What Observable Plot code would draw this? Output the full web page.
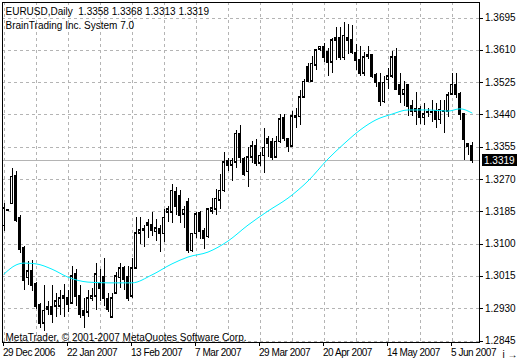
<!DOCTYPE html>
<html><head><meta charset="utf-8">
<script src="https://cdn.jsdelivr.net/npm/d3@7"></script>
<script src="https://cdn.jsdelivr.net/npm/@observablehq/plot@0.6"></script>
<style>
html,body{margin:0;padding:0;background:#fff;}
#chart{width:520px;height:360px;overflow:hidden;}
svg{display:block;}
g[aria-label="x-axis tick label"] text{letter-spacing:-0.45px;}
</style></head><body><div id="chart"></div>
<script>
const symbolLabel = "EURUSD,Daily";
const subtitle = "BrainTrading Inc. System 7.0";
const caption = "MetaTrader, \u00a9 2001-2007 MetaQuotes Software Corp.";

const open = [1.3148,1.3190,1.3206,1.3279,1.3169,1.3090,1.3011,1.3029,1.2995,1.2940,
1.2892,1.2929,1.2934,1.2937,1.2937,1.2958,1.2958,1.2945,1.3021,1.2963,
1.2924,1.2921,1.2956,1.2963,1.2995,1.3013,1.2956,1.2908,1.2971,1.3011,
1.3037,1.3013,1.2963,1.3037,1.3129,1.3137,1.3156,1.3150,1.3132,1.3140,
1.3127,1.3184,1.3184,1.3237,1.3227,1.3179,1.3211,1.3082,1.3127,1.3182,
1.3134,1.3119,1.3187,1.3192,1.3216,1.3240,1.3319,1.3308,1.3316,1.3390,
1.3324,1.3290,1.3329,1.3358,1.3313,1.3332,1.3377,1.3369,1.3329,1.3369,
1.3432,1.3377,1.3358,1.3437,1.3435,1.3487,1.3566,1.3529,1.3571,1.3613,
1.3619,1.3606,1.3579,1.3637,1.3642,1.3590,1.3637,1.3637,1.3603,1.3584,
1.3550,1.3595,1.3598,1.3545,1.3524,1.3474,1.3532,1.3542,1.3592,1.3519,
1.3495,1.3519,1.3463,1.3456,1.3456,1.3432,1.3448,1.3447,1.3450,1.3427,
1.3450,1.3450,1.3495,1.3519,1.3495,1.3442,1.3364,1.3358];
const high = [1.3206,1.3192,1.3298,1.3292,1.3174,1.3095,1.3053,1.3056,1.3000,1.2945,
1.2990,1.2950,1.2990,1.2969,1.2977,1.2995,1.2979,1.3040,1.3034,1.2990,
1.2956,1.2977,1.2982,1.3050,1.3034,1.3063,1.2971,1.2971,1.3024,1.3048,
1.3042,1.3042,1.3063,1.3169,1.3169,1.3148,1.3166,1.3184,1.3166,1.3148,
1.3192,1.3200,1.3258,1.3248,1.3240,1.3200,1.3219,1.3129,1.3182,1.3187,
1.3140,1.3195,1.3219,1.3245,1.3284,1.3340,1.3324,1.3324,1.3398,1.3411,
1.3329,1.3353,1.3371,1.3374,1.3340,1.3403,1.3382,1.3379,1.3384,1.3442,
1.3442,1.3379,1.3450,1.3456,1.3503,1.3534,1.3574,1.3595,1.3613,1.3621,
1.3627,1.3616,1.3640,1.3669,1.3669,1.3682,1.3679,1.3674,1.3624,1.3619,
1.3603,1.3621,1.3600,1.3548,1.3548,1.3542,1.3561,1.3608,1.3616,1.3548,
1.3529,1.3521,1.3477,1.3498,1.3463,1.3471,1.3456,1.3477,1.3471,1.3477,
1.3477,1.3498,1.3550,1.3548,1.3498,1.3445,1.3366,1.3368];
const low = [1.3132,1.3187,1.3203,1.3158,1.3074,1.2977,1.2990,1.2974,1.2929,1.2879,
1.2869,1.2913,1.2890,1.2908,1.2913,1.2906,1.2919,1.2940,1.2937,1.2903,
1.2877,1.2908,1.2950,1.2924,1.2950,1.2937,1.2919,1.2903,1.2969,1.2984,
1.2977,1.2950,1.2958,1.3034,1.3100,1.3090,1.3116,1.3121,1.3108,1.3077,
1.3103,1.3156,1.3153,1.3174,1.3153,1.3142,1.3074,1.3077,1.3116,1.3113,
1.3087,1.3116,1.3179,1.3174,1.3192,1.3235,1.3292,1.3266,1.3300,1.3313,
1.3279,1.3250,1.3313,1.3303,1.3303,1.3287,1.3327,1.3319,1.3324,1.3366,
1.3371,1.3340,1.3353,1.3403,1.3411,1.3482,1.3524,1.3524,1.3556,1.3608,
1.3577,1.3542,1.3548,1.3582,1.3584,1.3584,1.3600,1.3600,1.3558,1.3542,
1.3542,1.3587,1.3537,1.3511,1.3463,1.3469,1.3508,1.3537,1.3503,1.3471,
1.3463,1.3437,1.3437,1.3411,1.3416,1.3411,1.3432,1.3419,1.3403,1.3416,
1.3390,1.3434,1.3490,1.3484,1.3424,1.3321,1.3332,1.3313];
const close = [1.3195,1.3189,1.3277,1.3163,1.3087,1.3003,1.3029,1.2990,1.2937,1.2892,
1.2924,1.2934,1.2916,1.2950,1.2958,1.2963,1.2942,1.3016,1.2961,1.2916,
1.2911,1.2958,1.2963,1.3021,1.2982,1.2958,1.2929,1.2958,1.3016,1.3037,
1.3008,1.2958,1.3037,1.3129,1.3137,1.3140,1.3150,1.3137,1.3142,1.3127,
1.3169,1.3192,1.3240,1.3198,1.3174,1.3190,1.3082,1.3127,1.3179,1.3134,
1.3116,1.3192,1.3195,1.3219,1.3240,1.3316,1.3306,1.3319,1.3390,1.3327,
1.3282,1.3329,1.3358,1.3313,1.3332,1.3353,1.3364,1.3329,1.3369,1.3429,
1.3379,1.3356,1.3437,1.3434,1.3487,1.3527,1.3527,1.3574,1.3610,1.3619,
1.3590,1.3577,1.3637,1.3642,1.3590,1.3648,1.3642,1.3603,1.3582,1.3550,
1.3592,1.3598,1.3542,1.3524,1.3474,1.3524,1.3542,1.3592,1.3508,1.3495,
1.3506,1.3463,1.3450,1.3450,1.3432,1.3442,1.3447,1.3448,1.3429,1.3453,
1.3451,1.3492,1.3519,1.3495,1.3442,1.3374,1.3356,1.3319];

// moving average readings (bar index -> value)
const maBars = [0,3,5,8,12,16,21,26,32,37,42,46,51,56,61,66,71,76,81,85,89,93,97,101,106,111,114,117];
const maValues = [1.3021,1.3045,1.3050,1.3048,1.3034,1.3013,1.3000,1.2998,1.2998,1.3019,1.3048,1.3066,1.3079,1.3108,1.3150,1.3187,1.3221,1.3266,1.3324,1.3364,1.3400,1.3427,1.3442,1.3453,1.3453,1.3450,1.3456,1.3445];

const priceTicks = [1.2845,1.2930,1.3015,1.3100,1.3185,1.3270,1.3355,1.3440,1.3525,1.3610,1.3695];
const dateTickBars = [0,16,32,48,64,80,96,112];
const dateTickLabels = ["29 Dec 2006","22 Jan 2007","13 Feb 2007","7 Mar 2007","29 Mar 2007","20 Apr 2007","14 May 2007","5 Jun 2007"];
const gridBars = [0,8,16,24,32,40,48,56,64,72,80,88,96,104,112];

const bars = open.map((o,i)=>({i, o, h:high[i], l:low[i], c:close[i]}));
const upBars = bars.filter(d=>d.c>=d.o);
const downBars = bars.filter(d=>d.c<d.o);
const ma = maBars.map((b,k)=>({i:b, v:maValues[k]}));
const last = bars[bars.length-1];
const f4 = v=>v.toFixed(4);
const titleLine = symbolLabel + "\u00a0\u00a0" + [last.o,last.h,last.l,last.c].map(f4).join(" ");

const font = "'Liberation Sans', Arial, sans-serif";
const crisp = {shapeRendering:"crispEdges"};
const NS = "http://www.w3.org/2000/svg";

// price axis labels and current-price box, positioned with the plot's own y scale
function priceLabels(index, scales, values, dim) {
  const g = document.createElementNS(NS, "g");
  const xr = dim.width - dim.marginRight;
  for (const p of priceTicks) {
    const t = document.createElementNS(NS, "text");
    t.setAttribute("x", xr + 6); t.setAttribute("y", scales.y(p)); t.setAttribute("dy", "0.35em");
    t.setAttribute("text-anchor", "start"); t.setAttribute("fill", "#000"); t.setAttribute("font-size", "10");
    t.textContent = f4(p);
    g.appendChild(t);
  }
  const yp = scales.y(last.c);
  const r = document.createElementNS(NS, "rect");
  r.setAttribute("x", xr + 3); r.setAttribute("y", Math.round(yp) - 6);
  r.setAttribute("width", 35); r.setAttribute("height", 12);
  r.setAttribute("fill", "#000");
  const t = document.createElementNS(NS, "text");
  t.setAttribute("x", xr + 5); t.setAttribute("y", yp); t.setAttribute("dy", "0.35em");
  t.setAttribute("text-anchor", "start");
  t.setAttribute("fill", "#fff"); t.setAttribute("font-size", "10");
  t.textContent = f4(last.c);
  g.appendChild(r); g.appendChild(t);
  return g;
}

const chart = Plot.plot({
  width:520, height:360,
  marginTop:2, marginLeft:2, marginRight:41, marginBottom:18,
  style:{fontFamily:font, fontSize:"10px", background:"#fff", color:"#000"},
  x:{type:"linear", domain:[-0.25,119], range:[2.5,479.5]},
  y:{type:"linear", domain:[1.2840,1.3695], range:[342.4,17.5]},
  marks:[
    Plot.gridY(priceTicks, {stroke:"#b4b4b4", strokeOpacity:1, strokeDasharray:"3,3", ...crisp}),
    Plot.gridX(gridBars, {stroke:"#b4b4b4", strokeOpacity:1, strokeDasharray:"3,3", ...crisp}),
    Plot.ruleY([last.c], {stroke:"#b4b4b4", strokeOpacity:1, ...crisp}),
    Plot.ruleX(bars, {x:"i", y1:"l", y2:"h", stroke:"#000", ...crisp}),
    Plot.rect(upBars, {x1:d=>d.i-0.25, x2:d=>d.i+0.25, y1:"o", y2:"c", fill:"#fff", stroke:"#000", ...crisp}),
    Plot.rect(downBars, {x1:d=>d.i-0.25, x2:d=>d.i+0.25, y1:"o", y2:"c", fill:"#000", stroke:"#000", ...crisp}),
    Plot.ruleY(bars, {y:"c", x1:d=>d.i-0.375, x2:d=>d.i+0.375, stroke:"#000", ...crisp}),
    Plot.ruleY(bars, {y:"o", x1:d=>d.i-0.375, x2:d=>d.i+0.375, stroke:"#000", ...crisp}),
    Plot.line(ma, {x:"i", y:"v", stroke:"#00f0ff", strokeWidth:1, curve:"monotone-x"}),
    Plot.frame({stroke:"#000", ...crisp}),
    Plot.axisY(priceTicks, {anchor:"right", tickSize:3, text:null, ...crisp}),
    Plot.axisX(dateTickBars, {anchor:"bottom", tickSize:4, tickPadding:2, textAnchor:"start", dx:-1, fontSize:10,
      tickFormat:(d)=>dateTickLabels[dateTickBars.indexOf(d)], ...crisp}),
    Plot.text([titleLine + "\n" + subtitle], {frameAnchor:"top-left", dx:3, dy:3, lineAnchor:"top", lineHeight:1.4, fontSize:10, fill:"#000"}),
    Plot.text([caption], {frameAnchor:"bottom-left", dx:3, dy:-2, lineAnchor:"bottom", fontSize:10, fill:"#000"}),
    priceLabels
  ]
});
document.getElementById("chart").appendChild(chart);
</script></body></html>
